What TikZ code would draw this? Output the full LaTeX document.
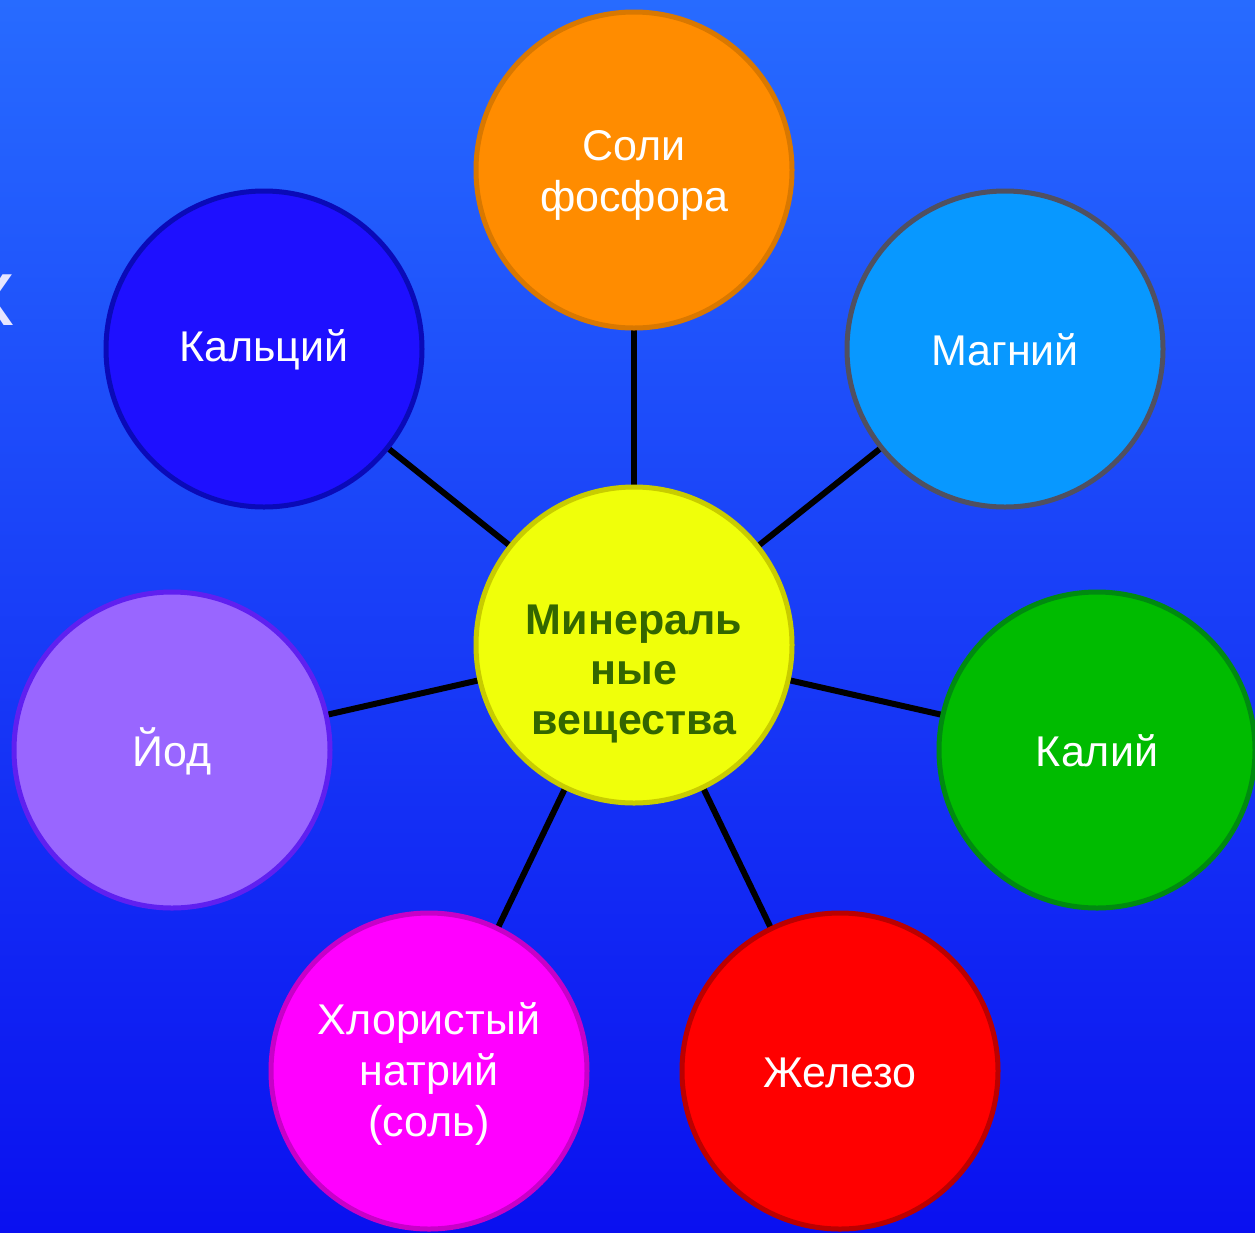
\documentclass[tikz,border=0pt]{standalone}
\usepackage{fontspec}
\setmainfont{Liberation Sans}
\begin{document}
\begin{tikzpicture}[x=1pt,y=-1pt,
  bub/.style={circle, minimum size=316pt, inner sep=0pt, line width=5pt, draw=#1},
  btxt/.style={align=center, inner sep=0pt, text=white, font=\fontsize{43}{51}\selectfont},
  spoke/.style={line width=6pt, draw=black}]
\definecolor{bgtop}{HTML}{276BFF}
\definecolor{bgbot}{HTML}{0A10F0}
\definecolor{orf}{HTML}{FF8C00}\definecolor{ord}{HTML}{D97800}
\definecolor{caf}{HTML}{1E10FF}\definecolor{cad}{HTML}{0A0AB8}
\definecolor{mgf}{HTML}{0898FF}\definecolor{mgd}{HTML}{505060}
\definecolor{mif}{HTML}{F0FF0A}\definecolor{mid}{HTML}{C8CC00}
\definecolor{mit}{HTML}{336600}
\definecolor{iof}{HTML}{9966FF}\definecolor{iod}{HTML}{6020F0}
\definecolor{kf}{HTML}{00BB00}\definecolor{kd}{HTML}{008A10}
\definecolor{naf}{HTML}{FF00FF}\definecolor{nad}{HTML}{C800C8}
\definecolor{fef}{HTML}{FF0000}\definecolor{fed}{HTML}{BB0000}
\definecolor{ttl}{HTML}{E6E6FF}
\useasboundingbox (0,0) rectangle (1255,1232);
\clip (0,0) rectangle (1255,1232);
\shade[top color=bgtop, bottom color=bgbot] (0,0) rectangle (1255,1232);
\node[anchor=base east, inner sep=0pt, text=ttl, font=\fontsize{96}{110}\selectfont] (title) at (15,325) {х};
% nodes
\coordinate (cm) at (634,645);
\coordinate (cp) at (634,170);
\coordinate (cca) at (264,349);
\coordinate (cmg) at (1005,349);
\coordinate (cio) at (172,750);
\coordinate (ck) at (1097,750);
\coordinate (cna) at (429,1071);
\coordinate (cfe) at (840,1071);
\foreach \t in {cp,cca,cmg,cio,ck,cna,cfe} \draw[spoke] (cm) -- (\t);
\node[bub=ord, fill=orf] (p) at (cp) {};
\node[bub=cad, fill=caf] (ca) at (cca) {};
\node[bub=mgd, fill=mgf] (mg) at (cmg) {};
\node[bub=iod, fill=iof] (io) at (cio) {};
\node[bub=kd, fill=kf] (k) at (ck) {};
\node[bub=nad, fill=naf] (na) at (cna) {};
\node[bub=fed, fill=fef] (fe) at (cfe) {};
\node[bub=mid, fill=mif] (m) at (cm) {};
\node[btxt] (pt) at (634,175) {Соли\\фосфора};
\node[btxt] (cat) at (264,350) {Кальций};
\node[btxt] (mgt) at (1005,350) {Магний};
\node[btxt] (iot) at (172,751) {Йод};
\node[btxt] (kt) at (1097,751) {Калий};
\node[btxt] (nat) at (429,1074) {Хлористый\\натрий\\(соль)};
\node[btxt] (fet) at (840,1073) {Железо};
\node[align=center, inner sep=0pt, text=mit, font=\fontsize{43}{50}\selectfont\bfseries] (mt) at (634,674) {Минераль\\ные\\вещества};
\end{tikzpicture}
\end{document}
